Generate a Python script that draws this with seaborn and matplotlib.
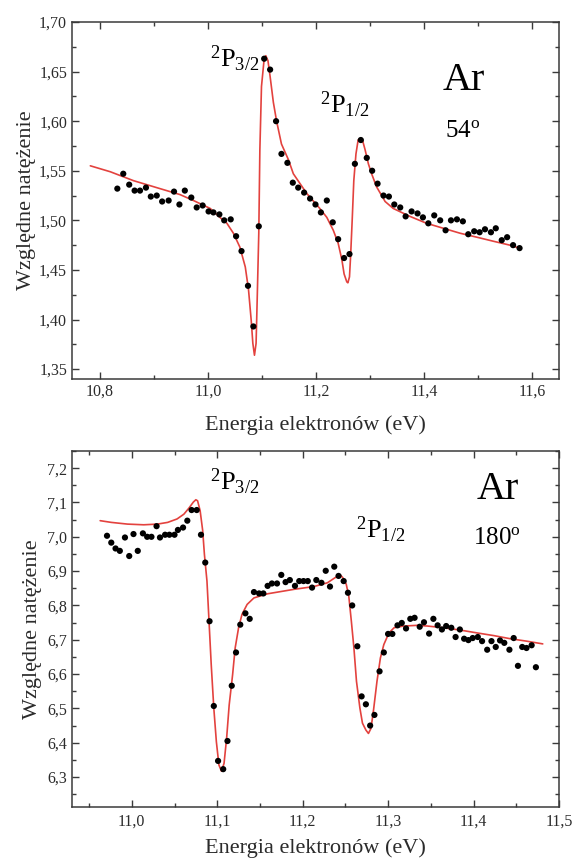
import numpy as np
import pandas as pd
import seaborn as sns
import matplotlib
matplotlib.use("Agg")
import matplotlib.pyplot as plt
from matplotlib.ticker import MultipleLocator, FuncFormatter

# --- panel 1 (54 deg) : measured points ---
e54 = [10.832, 10.843, 10.854, 10.864, 10.874, 10.885, 10.894, 10.905, 10.915, 10.927,
       10.937, 10.947, 10.957, 10.969, 10.979, 10.990, 11.001, 11.010, 11.021, 11.030,
       11.042, 11.052, 11.062, 11.074, 11.084, 11.094, 11.104, 11.115, 11.126, 11.136,
       11.147, 11.157, 11.167, 11.178, 11.189, 11.199, 11.209, 11.220, 11.231, 11.241,
       11.252, 11.262, 11.272, 11.283, 11.294, 11.304, 11.314, 11.325, 11.335, 11.345,
       11.356, 11.366, 11.377, 11.388, 11.398, 11.408, 11.419, 11.430, 11.440, 11.450,
       11.461, 11.472, 11.482, 11.493, 11.503, 11.513, 11.524, 11.533, 11.544, 11.554,
       11.565, 11.577]
i54 = [1.532, 1.547, 1.536, 1.530, 1.530, 1.533, 1.524, 1.525, 1.519, 1.520,
       1.529, 1.516, 1.530, 1.523, 1.513, 1.515, 1.509, 1.508, 1.506, 1.500,
       1.501, 1.484, 1.469, 1.434, 1.393, 1.494, 1.663, 1.652, 1.600, 1.567,
       1.558, 1.538, 1.533, 1.528, 1.522, 1.516, 1.508, 1.520, 1.498, 1.481,
       1.462, 1.466, 1.557, 1.581, 1.563, 1.550, 1.537, 1.525, 1.524, 1.516,
       1.513, 1.504, 1.509, 1.507, 1.503, 1.497, 1.505, 1.500, 1.490, 1.500,
       1.501, 1.499, 1.486, 1.489, 1.488, 1.491, 1.488, 1.492, 1.480, 1.483,
       1.475, 1.472]

# --- panel 1 fitted curve ---
fe54 = [10.782, 10.819, 10.862, 10.911, 10.948, 10.973, 11.004, 11.022, 11.035, 11.047,
        11.059, 11.069, 11.075, 11.080, 11.083, 11.086, 11.089, 11.091, 11.094, 11.096,
        11.099, 11.104, 11.107, 11.111, 11.115, 11.121, 11.127, 11.136, 11.149, 11.158,
        11.183, 11.207, 11.220, 11.232, 11.241, 11.248, 11.252, 11.257, 11.259, 11.262,
        11.264, 11.267, 11.270, 11.274, 11.278, 11.283, 11.286, 11.291, 11.297, 11.303,
        11.312, 11.328, 11.343, 11.374, 11.405, 11.436, 11.467, 11.498, 11.528, 11.559,
        11.577]
fi54 = [1.555, 1.549, 1.540, 1.532, 1.526, 1.520, 1.512, 1.503, 1.497, 1.487,
        1.473, 1.453, 1.430, 1.399, 1.376, 1.364, 1.376, 1.419, 1.487, 1.571,
        1.635, 1.663, 1.666, 1.661, 1.645, 1.619, 1.600, 1.577, 1.561, 1.547,
        1.527, 1.512, 1.503, 1.490, 1.477, 1.460, 1.446, 1.438, 1.437, 1.443,
        1.463, 1.500, 1.540, 1.567, 1.581, 1.583, 1.581, 1.571, 1.557, 1.547,
        1.534, 1.519, 1.512, 1.504, 1.497, 1.492, 1.487, 1.483, 1.479, 1.475,
        1.472]

# --- panel 2 (180 deg) : measured points ---
e180 = [10.971, 10.976, 10.981, 10.986, 10.992, 10.997, 11.002, 11.007, 11.013, 11.018,
        11.023, 11.029, 11.033, 11.039, 11.044, 11.050, 11.054, 11.060, 11.065, 11.070,
        11.076, 11.081, 11.086, 11.091, 11.096, 11.101, 11.107, 11.112, 11.117, 11.122,
        11.127, 11.133, 11.138, 11.143, 11.149, 11.154, 11.159, 11.164, 11.170, 11.175,
        11.180, 11.185, 11.191, 11.196, 11.201, 11.206, 11.211, 11.216, 11.222, 11.227,
        11.232, 11.237, 11.242, 11.248, 11.253, 11.258, 11.264, 11.269, 11.274, 11.279,
        11.284, 11.290, 11.295, 11.300, 11.305, 11.311, 11.316, 11.321, 11.326, 11.331,
        11.337, 11.342, 11.348, 11.353, 11.358, 11.363, 11.368, 11.374, 11.379, 11.384,
        11.389, 11.394, 11.399, 11.405, 11.410, 11.416, 11.421, 11.426, 11.431, 11.436,
        11.442, 11.447, 11.452, 11.457, 11.462, 11.468, 11.473]
i180 = [7.003, 6.983, 6.966, 6.959, 6.998, 6.944, 7.008, 6.959, 7.010, 7.000,
        7.000, 7.031, 6.998, 7.006, 7.006, 7.006, 7.020, 7.027, 7.047, 7.078,
        7.078, 7.006, 6.925, 6.754, 6.507, 6.347, 6.323, 6.405, 6.566, 6.663,
        6.744, 6.777, 6.761, 6.839, 6.835, 6.835, 6.857, 6.864, 6.864, 6.889,
        6.868, 6.874, 6.857, 6.871, 6.871, 6.871, 6.852, 6.874, 6.866, 6.901,
        6.855, 6.913, 6.886, 6.871, 6.837, 6.800, 6.681, 6.535, 6.512, 6.450,
        6.481, 6.608, 6.663, 6.717, 6.717, 6.742, 6.749, 6.733, 6.761, 6.764,
        6.738, 6.751, 6.718, 6.761, 6.742, 6.730, 6.740, 6.735, 6.708, 6.730,
        6.703, 6.699, 6.705, 6.708, 6.696, 6.671, 6.696, 6.679, 6.698, 6.691,
        6.671, 6.705, 6.624, 6.679, 6.676, 6.684, 6.620]

# --- panel 2 fitted curve ---
fe180 = [10.963, 10.976, 10.995, 11.014, 11.030, 11.042, 11.053, 11.061, 11.067, 11.072,
         11.075, 11.077, 11.080, 11.083, 11.085, 11.088, 11.090, 11.093, 11.096, 11.099,
         11.102, 11.105, 11.108, 11.111, 11.114, 11.118, 11.121, 11.125, 11.129, 11.135,
         11.143, 11.159, 11.190, 11.213, 11.229, 11.238, 11.244, 11.247, 11.251, 11.254,
         11.257, 11.260, 11.263, 11.267, 11.270, 11.274, 11.277, 11.280, 11.283, 11.287,
         11.291, 11.295, 11.301, 11.307, 11.318, 11.334, 11.346, 11.365, 11.385, 11.404,
         11.424, 11.443, 11.462, 11.481]
fi180 = [7.047, 7.042, 7.037, 7.035, 7.037, 7.042, 7.052, 7.066, 7.084, 7.101,
         7.108, 7.105, 7.076, 7.018, 6.949, 6.871, 6.774, 6.627, 6.501, 6.403,
         6.335, 6.317, 6.340, 6.413, 6.510, 6.598, 6.676, 6.735, 6.774, 6.803,
         6.822, 6.834, 6.847, 6.855, 6.866, 6.881, 6.889, 6.881, 6.862, 6.827,
         6.754, 6.676, 6.579, 6.501, 6.457, 6.437, 6.427, 6.442, 6.496, 6.579,
         6.647, 6.686, 6.720, 6.735, 6.740, 6.742, 6.740, 6.735, 6.728, 6.720,
         6.712, 6.703, 6.696, 6.688]

sns.set_style("ticks")
plt.rcParams["font.family"] = ["Liberation Serif", "DejaVu Serif"]
plt.rcParams["mathtext.fontset"] = "custom"
plt.rcParams["mathtext.rm"] = "Liberation Serif"
plt.rcParams["mathtext.it"] = "Liberation Serif:italic"
plt.rcParams["mathtext.bf"] = "Liberation Serif:bold"

RED = "#e3423e"
INK = "#2b2b2b"


def comma(fmt):
    return FuncFormatter(lambda v, p: format(v, fmt).replace(".", ","))


def style_axes(ax):
    for s in ax.spines.values():
        s.set_color("#3a3a3a")
        s.set_linewidth(1.1)
    ax.tick_params(which="both", direction="in", top=True, right=True,
                   colors="#3a3a3a", labelcolor=INK, labelsize=11.5)
    ax.tick_params(which="major", length=5, width=1.0)
    ax.tick_params(which="minor", length=3, width=1.0)
    ax.set_xlabel("Energia elektronów (eV)", fontsize=16, color=INK)
    ax.set_ylabel("Względne natężenie", fontsize=16, color=INK)


fig = plt.figure(figsize=(5.74, 8.63), dpi=100)
ax1 = fig.add_axes([0.1254, 0.5608, 0.8484, 0.4137])
ax2 = fig.add_axes([0.1254, 0.0650, 0.8484, 0.4124])

# top panel
d54 = pd.DataFrame({"E": e54, "I": i54})
f54 = pd.DataFrame({"E": fe54, "I": fi54})
sns.lineplot(data=f54, x="E", y="I", ax=ax1, color=RED, lw=1.2, sort=False, estimator=None)
sns.scatterplot(data=d54, x="E", y="I", ax=ax1, color="black", s=20, edgecolor="none", zorder=3)
ax1.set_xlim(10.748, 11.65)
ax1.set_ylim(1.34, 1.70)
ax1.xaxis.set_major_locator(MultipleLocator(0.2))
ax1.xaxis.set_minor_locator(MultipleLocator(0.1))
ax1.yaxis.set_major_locator(MultipleLocator(0.05))
ax1.yaxis.set_minor_locator(MultipleLocator(0.025))
ax1.xaxis.set_major_formatter(comma(".1f"))
ax1.yaxis.set_major_formatter(comma(".2f"))
style_axes(ax1)
ax1.xaxis.labelpad = 11
ax1.yaxis.labelpad = 2

ax1.text(11.004, 1.6546, r"$^{2}$P$_{3/2}$", fontsize=19, color="black", va="baseline")
ax1.text(11.207, 1.608, r"$^{2}$P$_{1/2}$", fontsize=19, color="black", va="baseline")
ax1.text(11.435, 1.6315, "Ar", fontsize=29, color="black", va="baseline")
ax1.text(11.439, 1.584, r"54$^{\mathrm{o}}$", fontsize=18, color="black", va="baseline")

# bottom panel
d180 = pd.DataFrame({"E": e180, "I": i180})
f180 = pd.DataFrame({"E": fe180, "I": fi180})
sns.lineplot(data=f180, x="E", y="I", ax=ax2, color=RED, lw=1.2, sort=False, estimator=None)
sns.scatterplot(data=d180, x="E", y="I", ax=ax2, color="black", s=20, edgecolor="none", zorder=3)
ax2.set_xlim(10.93, 11.5)
ax2.set_ylim(6.213, 7.25)
ax2.xaxis.set_major_locator(MultipleLocator(0.1))
ax2.xaxis.set_minor_locator(MultipleLocator(0.05))
ax2.yaxis.set_major_locator(MultipleLocator(0.1))
ax2.yaxis.set_minor_locator(MultipleLocator(0.05))
ax2.xaxis.set_major_formatter(comma(".1f"))
ax2.yaxis.set_major_formatter(comma(".1f"))
style_axes(ax2)
ax2.tick_params(axis="x", pad=5)
ax2.xaxis.labelpad = 6
ax2.yaxis.labelpad = 4

ax2.text(11.091, 7.135, r"$^{2}$P$_{3/2}$", fontsize=19, color="black", va="baseline")
ax2.text(11.262, 6.995, r"$^{2}$P$_{1/2}$", fontsize=19, color="black", va="baseline")
ax2.text(11.404, 7.1115, "Ar", fontsize=29, color="black", va="baseline")
ax2.text(11.3995, 6.980, r"180$^{\mathrm{o}}$", fontsize=18, color="black", va="baseline")

fig.savefig("out.png", dpi=100)
